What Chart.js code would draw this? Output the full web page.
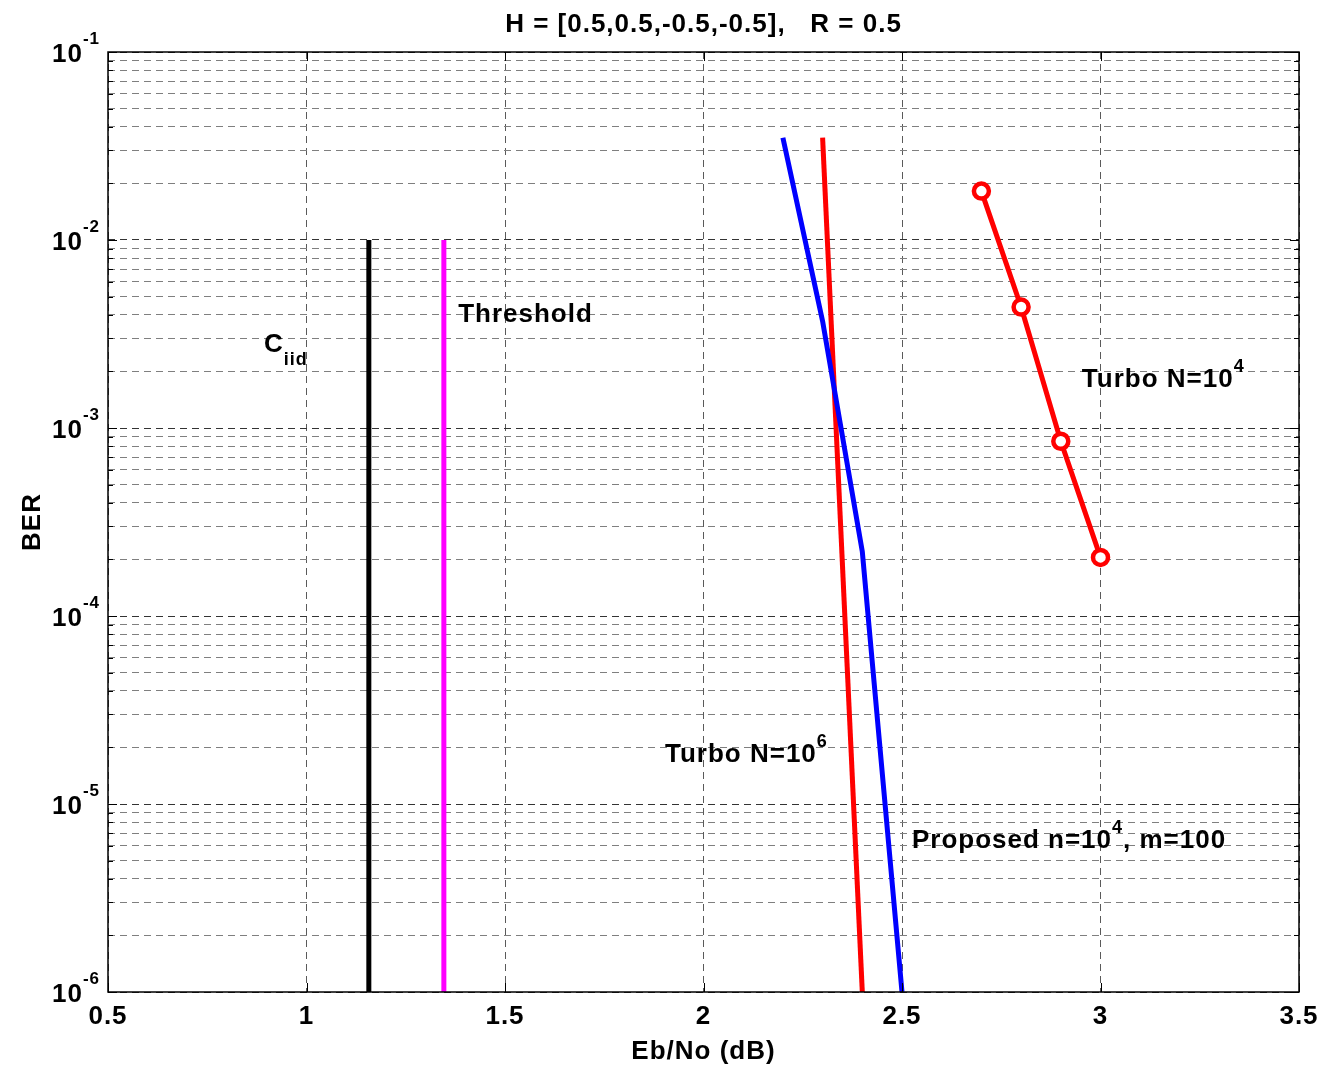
<!DOCTYPE html>
<html>
<head>
<meta charset="utf-8">
<script src="https://cdn.jsdelivr.net/npm/chart.js@4.4.0/dist/chart.umd.min.js"></script>
<style>
  html, body { margin: 0; padding: 0; background: #fff; }
  #wrap { width: 1325px; height: 1071px; }
</style>
</head>
<body>
<div id="wrap"><canvas id="ber" width="1325" height="1071"></canvas></div>
<script>
// axis ticks
const xTicks = [0.5, 1, 1.5, 2, 2.5, 3, 3.5];
const yExponents = [-1, -2, -3, -4, -5, -6];

// curves (Eb/No in dB, BER)
const ciidX = [1.157, 1.157];
const ciidY = [1e-2, 1e-6];
const thresholdX = [1.346, 1.346];
const thresholdY = [1e-2, 1e-6];
const proposedX = [2.2, 2.3, 2.4, 2.5];
const proposedY = [0.035, 0.0037, 2.2e-4, 1e-6];
const turbo6X = [2.3, 2.4];
const turbo6Y = [0.035, 1e-6];
const turbo4X = [2.7, 2.8, 2.9, 3.0];
const turbo4Y = [0.0182, 0.0044, 8.5e-4, 2.05e-4];

// text labels inside the axes, anchored in data units (left edge, baseline)
const notes = [
  { x: 0.893, y: Math.pow(10, -2.596), parts: [["C", "n"], ["iid", "sub"]] },
  { x: 1.382, y: Math.pow(10, -2.436), parts: [["Threshold", "n"]] },
  { x: 2.953, y: Math.pow(10, -2.782), parts: [["Turbo N=10", "n"], ["4", "sup"]] },
  { x: 1.903, y: Math.pow(10, -4.777), parts: [["Turbo N=10", "n"], ["6", "sup"]] },
  { x: 2.525, y: Math.pow(10, -5.234), parts: [["Proposed n=10", "n"], ["4", "sup"], [", m=100", "n"]] }
];

const FONT = '"Liberation Sans", Arial, sans-serif';
const fonts = {
  n: "bold 26px " + FONT,
  sup: "bold 18px " + FONT,
  sub: "bold 18px " + FONT,
  tsup: "bold 17px " + FONT
};
const shift = { n: 0, sup: -15, sub: 13, tsup: -18 };

function pts(xs, ys) {
  return xs.map((x, i) => ({ x: x, y: ys[i] }));
}

function richWidth(ctx, parts) {
  let w = 0;
  parts.forEach(p => {
    ctx.font = fonts[p[1]];
    w += ctx.measureText(p[0]).width;
  });
  return w;
}

function drawRich(ctx, x, y, parts, align) {
  ctx.save();
  ctx.letterSpacing = "1px";
  ctx.fillStyle = "#000";
  ctx.textBaseline = "alphabetic";
  ctx.textAlign = "left";
  const w = richWidth(ctx, parts);
  let cx = x;
  if (align === "center") cx = x - w / 2;
  if (align === "right") cx = x - w;
  parts.forEach(p => {
    ctx.font = fonts[p[1]];
    ctx.fillText(p[0], cx, y + shift[p[1]]);
    cx += ctx.measureText(p[0]).width;
  });
  ctx.restore();
}

function isDecade(v) {
  const l = Math.log10(v);
  return Math.abs(l - Math.round(l)) < 1e-6;
}

const matlabLook = {
  id: "matlabLook",
  afterDraw(chart) {
    const ctx = chart.ctx;
    const a = chart.chartArea;
    const xs = chart.scales.x;
    const ys = chart.scales.y;

    // axes box and inward tick marks
    ctx.save();
    ctx.strokeStyle = "#000";
    ctx.lineWidth = 1.5;
    ctx.strokeRect(a.left, a.top, a.right - a.left, a.bottom - a.top);
    ctx.lineWidth = 1;
    ctx.beginPath();
    xTicks.forEach(v => {
      const px = Math.round(xs.getPixelForValue(v)) + 0.5;
      ctx.moveTo(px, a.bottom); ctx.lineTo(px, a.bottom - 9);
      ctx.moveTo(px, a.top); ctx.lineTo(px, a.top + 9);
    });
    ys.ticks.forEach(t => {
      const len = isDecade(t.value) ? 9 : 5;
      const py = Math.round(ys.getPixelForValue(t.value)) + 0.5;
      ctx.moveTo(a.left, py); ctx.lineTo(a.left + len, py);
      ctx.moveTo(a.right, py); ctx.lineTo(a.right - len, py);
    });
    ctx.stroke();
    ctx.restore();

    // tick labels
    xTicks.forEach(v => {
      drawRich(ctx, xs.getPixelForValue(v), a.bottom + 32, [[String(v), "n"]], "center");
    });
    yExponents.forEach(e => {
      const py = ys.getPixelForValue(Math.pow(10, e));
      drawRich(ctx, a.left - 8, py + 10, [["10", "n"], [String(e), "tsup"]], "right");
    });

    // title and axis labels
    drawRich(ctx, (a.left + a.right) / 2, 32, [["H = [0.5,0.5,-0.5,-0.5],   R = 0.5", "n"]], "center");
    drawRich(ctx, (a.left + a.right) / 2, 1059, [["Eb/No (dB)", "n"]], "center");
    ctx.save();
    ctx.translate(39.5, (a.top + a.bottom) / 2);
    ctx.rotate(-Math.PI / 2);
    drawRich(ctx, 0, 0, [["BER", "n"]], "center");
    ctx.restore();

    // annotations
    notes.forEach(n => {
      drawRich(ctx, xs.getPixelForValue(n.x), ys.getPixelForValue(n.y), n.parts, "left");
    });
  }
};

new Chart(document.getElementById("ber"), {
  type: "line",
  data: {
    datasets: [
      { data: pts(ciidX, ciidY), borderColor: "#000000", borderWidth: 5, pointRadius: 0 },
      { data: pts(thresholdX, thresholdY), borderColor: "#ff00ff", borderWidth: 5, pointRadius: 0 },
      { data: pts(proposedX, proposedY), borderColor: "#0000ff", borderWidth: 5, pointRadius: 0 },
      { data: pts(turbo6X, turbo6Y), borderColor: "#ff0000", borderWidth: 5, pointRadius: 0 },
      {
        data: pts(turbo4X, turbo4Y), borderColor: "#ff0000", borderWidth: 5,
        pointRadius: 7.5, pointBorderWidth: 4.5, pointBackgroundColor: "#ffffff",
        pointBorderColor: "#ff0000"
      }
    ]
  },
  options: {
    responsive: false,
    animation: false,
    events: [],
    layout: { padding: { left: 108, right: 26, top: 52, bottom: 79 } },
    plugins: { legend: { display: false }, tooltip: { enabled: false } },
    elements: { line: { tension: 0, fill: false } },
    scales: {
      x: {
        type: "linear",
        min: 0.5,
        max: 3.5,
        ticks: { display: false, stepSize: 0.5 },
        grid: { drawTicks: false, color: "#5a5a5a", lineWidth: 1 },
        border: { display: false, dash: [7, 5] }
      },
      y: {
        type: "logarithmic",
        min: 1e-6,
        max: 1e-1,
        afterBuildTicks(scale) {
          const t = [];
          yExponents.slice().reverse().forEach(e => {
            for (let m = 1; m <= 9; m++) {
              const v = m * Math.pow(10, e);
              if (v <= 1e-1 + 1e-12) t.push({ value: v });
            }
          });
          scale.ticks = t;
        },
        ticks: { display: false },
        grid: {
          drawTicks: false,
          lineWidth: 1,
          color: c => (c.tick && isDecade(c.tick.value) ? "#333333" : "#7f7f7f")
        },
        border: { display: false, dash: [7, 5] }
      }
    }
  },
  plugins: [matlabLook]
});
</script>
</body>
</html>
